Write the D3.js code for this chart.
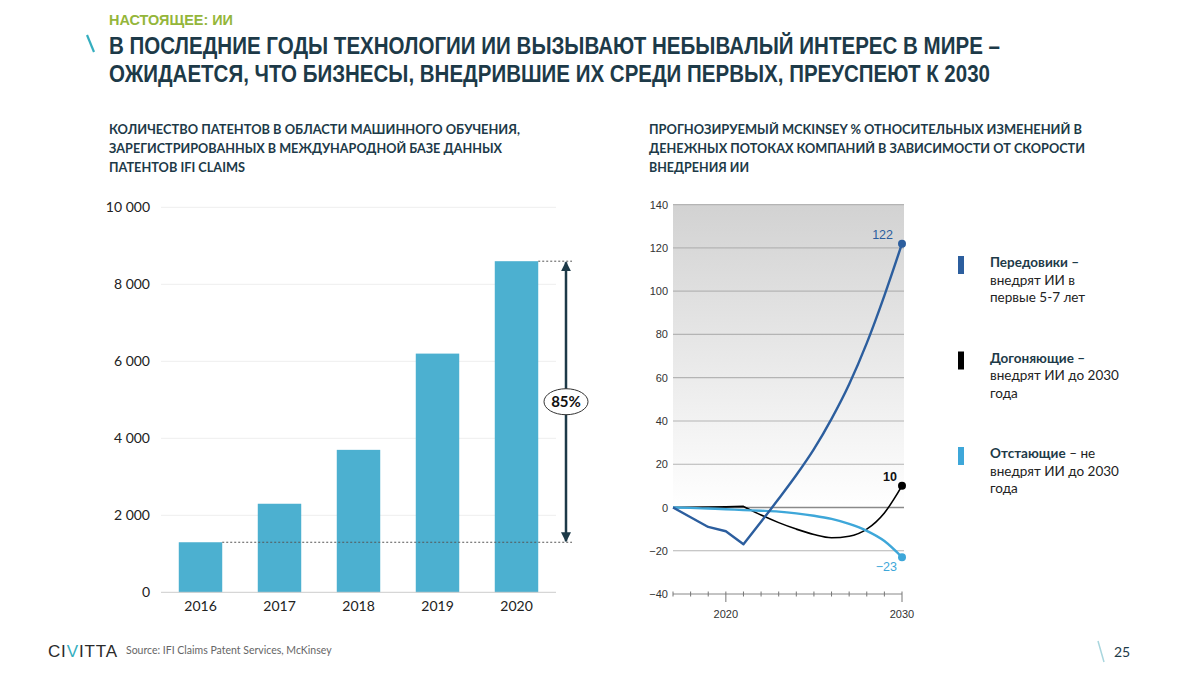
<!DOCTYPE html>
<html><head><meta charset="utf-8">
<script src="https://cdn.jsdelivr.net/npm/d3@7"></script>
<style>body{margin:0;background:#fff}svg{display:block}</style>
</head><body><svg id="c" width="1200" height="675"></svg>
<script>
// ---------- data ----------
const barYears = ["2016", "2017", "2018", "2019", "2020"];
const patents = [1300, 2300, 3700, 6200, 8600];
const barTicks = [0, 2000, 4000, 6000, 8000, 10000];
const growthLabel = "85%";

const lineYears = [2017, 2018, 2019, 2020, 2021, 2022, 2023, 2024, 2025, 2026, 2027, 2028, 2029, 2030];
const leaders   = [0, -4.5, -9, -11, -17, -6.6, 4, 15, 27, 41, 57, 76, 98, 122];
const followers = [0, 0.1, 0.2, 0.3, 0.5, -3.5, -7, -10, -12.5, -14, -13.3, -10, -2.5, 10];
const laggards  = [0, -0.2, -0.5, -0.8, -1.2, -1.5, -1.9, -2.7, -3.8, -5.3, -7.6, -10.8, -15.5, -23];
const lineTicks = [-40, -20, 0, 20, 40, 60, 80, 100, 120, 140];
const lineXLabels = [2020, 2030];

const legendBold = ["Передовики –", "Догоняющие –", "Отстающие"];
const legendRest = [["", "внедрят ИИ в", "первые 5-7 лет"], ["", "внедрят ИИ до 2030", "года"], [" – не", "внедрят ИИ до 2030", "года"]];

// ---------- styles ----------
const C = {
  dark: "#1d3a48", green: "#94b63a", teal: "#35aebf", bar: "#4cb0d0",
  leaders: "#2c5e9e", followers: "#000000", laggards: "#3ea7d9", text: "#222"
};
const BODY = "Lato, 'Open Sans', sans-serif";
const NARROW = "'Liberation Sans Narrow', 'Liberation Sans', Arial, sans-serif";
const svg = d3.select("#c");
const defs = svg.append("defs");

// ---------- header ----------
svg.append("text").attr("x", 109).attr("y", 25).text("НАСТОЯЩЕЕ: ИИ")
  .attr("font-family", NARROW).attr("font-weight", 700).attr("font-size", 15)
  .attr("fill", C.green).attr("textLength", 124).attr("lengthAdjust", "spacingAndGlyphs");
svg.append("line").attr("x1", 87).attr("y1", 35).attr("x2", 94).attr("y2", 52)
  .attr("stroke", C.teal).attr("stroke-width", 2.2);
const titles = [["В ПОСЛЕДНИЕ ГОДЫ ТЕХНОЛОГИИ ИИ ВЫЗЫВАЮТ НЕБЫВАЛЫЙ ИНТЕРЕС В МИРЕ –", 54, 891],
                ["ОЖИДАЕТСЯ, ЧТО БИЗНЕСЫ, ВНЕДРИВШИЕ ИХ СРЕДИ ПЕРВЫХ, ПРЕУСПЕЮТ К 2030", 82, 881]];
titles.forEach(([t, y, w]) => svg.append("text").attr("x", 109).attr("y", y).text(t)
  .attr("font-family", NARROW).attr("font-weight", 700).attr("font-size", 24)
  .attr("fill", C.dark).attr("textLength", w).attr("lengthAdjust", "spacingAndGlyphs"));

const heads = [
  [109, [["КОЛИЧЕСТВО ПАТЕНТОВ В ОБЛАСТИ МАШИННОГО ОБУЧЕНИЯ,", 411], ["ЗАРЕГИСТРИРОВАННЫХ В МЕЖДУНАРОДНОЙ БАЗЕ ДАННЫХ", 393], ["ПАТЕНТОВ IFI CLAIMS", 136]]],
  [649, [["ПРОГНОЗИРУЕМЫЙ MCKINSEY % ОТНОСИТЕЛЬНЫХ ИЗМЕНЕНИЙ В", 433], ["ДЕНЕЖНЫХ ПОТОКАХ КОМПАНИЙ В ЗАВИСИМОСТИ ОТ СКОРОСТИ", 436], ["ВНЕДРЕНИЯ ИИ", 100]]]
];
heads.forEach(([x, lines]) => lines.forEach(([t, w], i) => svg.append("text")
  .attr("x", x).attr("y", 134 + i * 19).text(t)
  .attr("font-family", BODY).attr("font-weight", 700).attr("font-size", 13.5)
  .attr("fill", C.dark).attr("textLength", w).attr("lengthAdjust", "spacingAndGlyphs")));

// ---------- bar chart ----------
const bx = d3.scaleBand().domain(barYears).range([161, 556]).paddingInner(0.45).paddingOuter(0.225);
const by = d3.scaleLinear().domain([0, 10000]).range([592.3, 207.3]);
const fmt = v => d3.format(",")(v).replace(/,/g, " ");

const gb = svg.append("g");
gb.selectAll(".grid").data(barTicks.slice(1)).join("line")
  .attr("x1", 161).attr("x2", 556).attr("y1", d => by(d)).attr("y2", d => by(d))
  .attr("stroke", "#eeeeee").attr("stroke-width", 1);
gb.append("g").attr("transform", "translate(150,0)")
  .call(d3.axisLeft(by).tickValues(barTicks).tickFormat(fmt).tickSize(0).tickPadding(0))
  .call(g => g.select(".domain").remove())
  .call(g => g.selectAll("text").attr("font-family", BODY).attr("font-size", 14).attr("fill", C.text));
gb.selectAll("rect").data(patents).join("rect")
  .attr("x", (d, i) => bx(barYears[i])).attr("width", bx.bandwidth())
  .attr("y", d => by(d)).attr("height", d => by(0) - by(d)).attr("fill", C.bar);
gb.append("g").attr("transform", `translate(0,${by(0)})`)
  .call(d3.axisBottom(bx).tickSize(0).tickPadding(9))
  .call(g => g.select(".domain").attr("stroke", "#cccccc").attr("d", "M161,0H556"))
  .call(g => g.selectAll("text").attr("font-family", BODY).attr("font-size", 14).attr("fill", C.text));

// growth annotation
const first = patents[0], last = patents[patents.length - 1];
const ax = 566;
[[barYears[0], first], [barYears[4], last]].forEach(([yr, v]) => gb.append("line")
  .attr("x1", bx(yr) + bx.bandwidth()).attr("x2", 572).attr("y1", by(v)).attr("y2", by(v))
  .attr("stroke", "#555").attr("stroke-width", 1).attr("stroke-dasharray", "2,2"));
defs.append("marker").attr("id", "ah").attr("viewBox", "0 0 10 10").attr("refX", 9).attr("refY", 5)
  .attr("markerWidth", 4).attr("markerHeight", 4).attr("orient", "auto-start-reverse")
  .append("path").attr("d", "M0,0L10,5L0,10z").attr("fill", C.dark);
gb.append("line").attr("x1", ax).attr("x2", ax).attr("y1", by(last) + 1).attr("y2", by(first) - 1)
  .attr("stroke", C.dark).attr("stroke-width", 2.5)
  .attr("marker-start", "url(#ah)").attr("marker-end", "url(#ah)");
const my = (by(first) + by(last)) / 2;
gb.append("ellipse").attr("cx", ax).attr("cy", my).attr("rx", 22).attr("ry", 13)
  .attr("fill", "#fff").attr("stroke", "#333").attr("stroke-width", 1);
gb.append("text").attr("x", ax).attr("y", my + 5).attr("text-anchor", "middle").text(growthLabel)
  .attr("font-family", BODY).attr("font-weight", 700).attr("font-size", 15).attr("fill", "#111");

// ---------- line chart ----------
const lx = d3.scaleLinear().domain([2017, 2030]).range([673, 902]);
const ly = d3.scaleLinear().domain([-40, 140]).range([594, 204.7]);
const gl = svg.append("g");
const grad = defs.append("linearGradient").attr("id", "bg").attr("x1", 0).attr("y1", 0).attr("x2", 0).attr("y2", 1);
grad.append("stop").attr("offset", 0).attr("stop-color", "#d2d2d2");
grad.append("stop").attr("offset", 0.78).attr("stop-color", "#ffffff");
gl.append("rect").attr("x", lx(2017)).attr("y", ly(140)).attr("width", lx(2030) - lx(2017) + 2)
  .attr("height", ly(-40) - ly(140)).attr("fill", "url(#bg)");
gl.selectAll(".lg").data(lineTicks.slice(1)).join("line")
  .attr("x1", lx(2017)).attr("x2", lx(2030) + 2).attr("y1", d => ly(d)).attr("y2", d => ly(d))
  .attr("stroke", d => d === 0 ? "#8a8a8a" : "#b4b4b4").attr("stroke-width", d => d === 0 ? 1.3 : 1.2);
gl.append("g").attr("transform", `translate(${lx(2017) - 5},0)`)
  .call(d3.axisLeft(ly).tickValues(lineTicks).tickFormat(d3.format("d")).tickSize(0).tickPadding(0))
  .call(g => g.select(".domain").remove())
  .call(g => g.selectAll("text").attr("font-family", "'Liberation Sans', Arial, sans-serif")
    .attr("font-size", 11).attr("fill", "#333").text(d => d < 0 ? "\u2212" + Math.abs(d) : d));
// bottom axis
const ga = gl.append("g").attr("transform", `translate(0,${ly(-40)})`);
ga.append("line").attr("x1", lx(2017)).attr("x2", lx(2030)).attr("stroke", "#888").attr("stroke-width", 1);
ga.selectAll(".tk").data(lineYears).join("line")
  .attr("x1", d => lx(d)).attr("x2", d => lx(d))
  .attr("y1", -2.5).attr("y2", d => lineXLabels.includes(d) ? 8 : 2.5)
  .attr("stroke", "#777").attr("stroke-width", 1);
ga.selectAll("text").data(lineXLabels).join("text")
  .attr("x", d => lx(d)).attr("y", 24).attr("text-anchor", "middle").text(d => d)
  .attr("font-family", "'Liberation Sans', Arial, sans-serif").attr("font-size", 11).attr("fill", "#333");

// series: linear up to the 2021 turning point, smooth afterwards
const pts = s => s.map((v, i) => [lx(lineYears[i]), ly(v)]);
const lineLin = d3.line().curve(d3.curveLinear);
const lineSmooth = d3.line().curve(d3.curveMonotoneX);
const split = 4; // index of 2021
const seriesDefs = [
  [followers, C.followers, 1.6, true],
  [laggards, C.laggards, 2.4, false],
  [leaders, C.leaders, 2.4, true]
];
seriesDefs.forEach(([s, col, w, kink]) => {
  const p = pts(s);
  const d = kink ? lineLin(p.slice(0, split + 1)) + lineSmooth(p.slice(split)).replace(/^M/, "L")
                 : lineSmooth(p);
  gl.append("path").attr("d", d).attr("fill", "none")
    .attr("stroke", col).attr("stroke-width", w).attr("stroke-linejoin", "round");
  gl.append("circle").attr("cx", lx(2030)).attr("cy", ly(s[s.length - 1])).attr("r", 4).attr("fill", col);
});
const endLabels = [[leaders, C.leaders, -1, 400, 893], [followers, "#111", -5, 700, 897], [laggards, C.laggards, 14, 400, 897]];
endLabels.forEach(([s, col, dy, fw, x]) => {
  const v = s[s.length - 1];
  gl.append("text").attr("x", x).attr("y", ly(v) + dy - (s === leaders ? 4 : 0)).attr("text-anchor", "end")
    .text(v < 0 ? "\u2212" + Math.abs(v) : v)
    .attr("font-family", "'Liberation Sans', Arial, sans-serif").attr("font-weight", fw)
    .attr("font-size", 12.5).attr("fill", col);
});

// ---------- legend ----------
const legColors = [C.leaders, "#000000", C.laggards];
legendBold.forEach((b, i) => {
  const y0 = 267 + i * 95.5;
  svg.append("rect").attr("x", 958).attr("y", y0 - 11).attr("width", 6).attr("height", 18).attr("fill", legColors[i]);
  const t = svg.append("text").attr("x", 990).attr("y", y0).attr("font-family", BODY).attr("font-size", 13.5).attr("fill", C.text);
  t.append("tspan").attr("font-weight", 700).attr("fill", C.dark).text(b);
  t.append("tspan").text(legendRest[i][0]);
  legendRest[i].slice(1).forEach((l, j) => svg.append("text").attr("x", 990).attr("y", y0 + 17.5 * (j + 1))
    .text(l).attr("font-family", BODY).attr("font-size", 13.5).attr("fill", C.text));
});

// ---------- footer ----------
const logo = svg.append("text").attr("x", 48).attr("y", 657).attr("font-family", "'Liberation Sans', Arial")
  .attr("font-size", 17).attr("fill", "#2a2a2a").attr("textLength", 69).attr("lengthAdjust", "spacing");
logo.append("tspan").text("CI");
logo.append("tspan").attr("fill", C.teal).text("V");
logo.append("tspan").text("ITTA");
svg.append("text").attr("x", 126).attr("y", 654).text("Source: IFI Claims Patent Services, McKinsey")
  .attr("font-family", BODY).attr("font-size", 10.5).attr("fill", "#666");
svg.append("line").attr("x1", 1098).attr("y1", 641).attr("x2", 1104).attr("y2", 662)
  .attr("stroke", "#a9d6de").attr("stroke-width", 1.5);
svg.append("text").attr("x", 1114).attr("y", 657).text("25")
  .attr("font-family", BODY).attr("font-size", 14).attr("fill", C.dark);
</script></body></html>
